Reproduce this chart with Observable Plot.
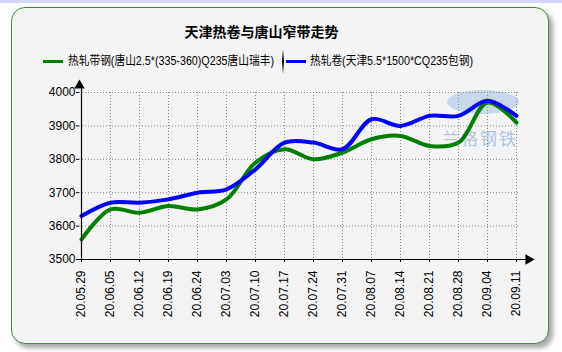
<!DOCTYPE html>
<html>
<head>
<meta charset="utf-8">
<script src="https://cdn.jsdelivr.net/npm/d3@7"></script>
<script src="https://cdn.jsdelivr.net/npm/@observablehq/plot@0.6"></script>
<style>
  html, body { margin: 0; padding: 0; background: #ffffff; }
  #wrap { position: relative; width: 562px; height: 352px; overflow: hidden; font-family: "Liberation Sans", "Noto Sans CJK SC", sans-serif; }
  #strip { position: absolute; left: 0; top: 0; width: 562px; height: 3px; background: #d6d6fb; }
  #card { position: absolute; left: 11px; top: 7px; width: 536px; height: 335px; border: 1.5px solid #3d8f3d; border-radius: 14px; background: #f4f4f4; box-shadow: 4px 4px 5px rgba(0,0,0,0.35); }
  #title { position: absolute; left: 0; width: 523px; top: 21px; text-align: center; font-size: 14px; font-weight: bold; color: #000; font-family: "Noto Sans CJK SC", sans-serif; line-height: 20px; }
  .leg { position: absolute; top: 52px; font-size: 12px; line-height: 18px; color: #000; white-space: nowrap; font-family: "Liberation Sans", "Noto Sans CJK SC", sans-serif; transform-origin: 0 50%; }
  .sw { position: absolute; height: 3px; top: 60px; }
  #sep { position: absolute; left: 282px; top: 50px; width: 2px; height: 23px; background: linear-gradient(#ddd, #000 50%, #ddd); }
  #wm1 { position: absolute; left: 447px; top: 90px; width: 72px; height: 24px; border-radius: 50%; background: rgba(120,160,215,0.35); }
  #wm2 { position: absolute; left: 442px; top: 128px; font-size: 17px; letter-spacing: 2px; color: rgba(110,150,210,0.55); font-family: "Noto Sans CJK SC", sans-serif; line-height: 20px; }
  #plot { position: absolute; left: 0; top: 70px; }
</style>
</head>
<body>
<div id="wrap">
  <div id="strip"></div>
  <div id="card"></div>
  <div id="title">天津热卷与唐山窄带走势</div>
  <div class="sw" style="left:43px;width:20px;background:#008000"></div>
  <div class="leg" id="leg1" style="left:68px" data-w="206"></div>
  <div id="sep"></div>
  <div class="sw" style="left:286px;width:20px;background:#0000ff"></div>
  <div class="leg" id="leg2" style="left:310px" data-w="163"></div>
  <div id="wm1"></div>
  <div id="wm2">兰格钢铁</div>
  <div id="plot"></div>
</div>
<script>
const dates = ["20.05.29","20.06.05","20.06.12","20.06.19","20.06.24","20.07.03","20.07.10","20.07.17","20.07.24","20.07.31","20.08.07","20.08.14","20.08.21","20.08.28","20.09.04","20.09.11"];
const seriesNames = ["热轧带钢(唐山2.5*(335-360)Q235唐山瑞丰)", "热轧卷(天津5.5*1500*CQ235包钢)"];
const tangshan = [3560,3650,3640,3660,3650,3680,3790,3830,3800,3820,3860,3870,3840,3850,3970,3910];
const tianjin  = [3630,3670,3670,3680,3700,3710,3770,3850,3850,3830,3920,3900,3930,3930,3975,3930];
const yTicks = [3500,3600,3700,3800,3900,4000];
const colors = ["#008000", "#0000ff"];

["leg1", "leg2"].forEach((id, i) => {
  const el = document.getElementById(id);
  el.textContent = seriesNames[i];
  const target = +el.dataset.w;
  const w = el.getBoundingClientRect().width;
  if (w > 0) el.style.transform = `scaleX(${target / w})`;
});

const data = [];
dates.forEach((d, i) => data.push({date: d, value: tangshan[i], series: seriesNames[0]}));
dates.forEach((d, i) => data.push({date: d, value: tianjin[i], series: seriesNames[1]}));

const chart = Plot.plot({
  width: 562,
  height: 282,
  marginLeft: 79,
  marginRight: 44,
  marginTop: 22,
  marginBottom: 93,
  style: {background: "transparent", fontFamily: "Liberation Sans, Noto Sans CJK SC, sans-serif", fontSize: "12px", color: "#000", overflow: "visible"},
  x: {type: "point", domain: dates, padding: 0},
  y: {domain: [3500, 4000]},
  color: {domain: seriesNames, range: colors},
  marks: [
    Plot.gridX(dates, {stroke: "#888", strokeOpacity: 1, strokeDasharray: "1,2"}),
    Plot.gridY(yTicks, {stroke: "#888", strokeOpacity: 1, strokeDasharray: "1,2"}),
    Plot.axisY(yTicks, {tickSize: 3, tickPadding: 1, tickFormat: d3.format("d"), fontSize: 12, label: null}),
    Plot.axisX(dates, {tickSize: 3, tickRotate: -90, tickPadding: 8, fontSize: 12, label: null}),
    Plot.line(data, {x: "date", y: "value", z: "series", stroke: "series", strokeWidth: 4, curve: "catmull-rom"}),
    Plot.ruleX([dates[0]], {stroke: "#000", strokeWidth: 1.2, insetTop: -6}),
    Plot.ruleY([yTicks[0]], {stroke: "#000", strokeWidth: 1.2, insetRight: -8}),
    Plot.dot([0], {frameAnchor: "top-left", symbol: "triangle", r: 3.9, fill: "#000", stroke: "none", dy: -7}),
    Plot.dot([0], {frameAnchor: "bottom-right", symbol: "triangle", r: 3.9, fill: "#000", stroke: "none", rotate: 90, dx: 10})
  ]
});
document.getElementById("plot").appendChild(chart);
</script>
</body>
</html>
